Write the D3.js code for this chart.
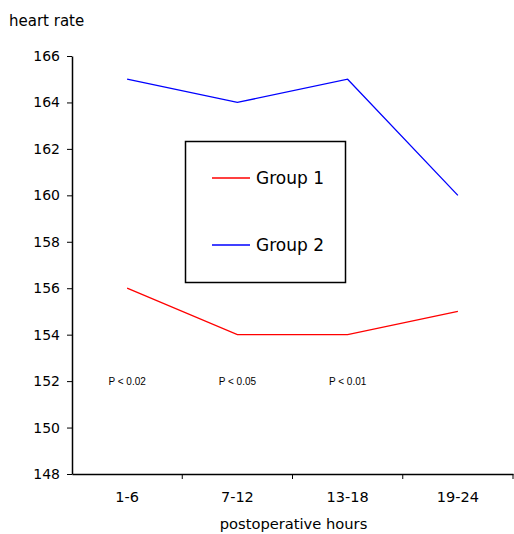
<!DOCTYPE html>
<html>
<head>
<meta charset="utf-8">
<script src="https://cdn.jsdelivr.net/npm/d3@7"></script>
<style>
body { margin: 0; background: #fff; }
text { font-family: "DejaVu Sans", sans-serif; }
</style>
</head>
<body>
<div id="frame"></div>
<script>
// data
const hours = ["1-6", "7-12", "13-18", "19-24"];
const group1 = [156, 154, 154, 155];
const group2 = [165, 164, 165, 160];
const pLabels = ["P < 0.02", "P < 0.05", "P < 0.01"];
const yTicks = [148, 150, 152, 154, 156, 158, 160, 162, 164, 166];

const frameWidth = 514;
const frameHeight = 534;
const plotLeft = 72, plotRight = 513, plotTop = 56, plotBottom = 474;

let svg = d3.select("#frame")
        .append("svg")
        .attr("width", frameWidth)
        .attr("height", frameHeight);

let xScale = d3.scaleBand()
        .domain(hours)
        .range([plotLeft, plotRight]);

let yScale = d3.scaleLinear()
        .domain([148, 166])
        .range([plotBottom, plotTop]);

// y axis
let yAxis = svg.append("g")
        .attr("transform", "translate(" + plotLeft + ",0)")
        .call(d3.axisLeft(yScale).tickValues(yTicks).tickSize(5).tickPadding(7).tickSizeOuter(0));
yAxis.selectAll("text").style("font-size", "14px").attr("fill", "#000");
yAxis.selectAll("line").attr("stroke", "#000");
yAxis.select(".domain").attr("stroke", "#000").attr("stroke-width", 1.5);

// x axis
let xAxis = svg.append("g")
        .attr("transform", "translate(0," + plotBottom + ")")
        .call(d3.axisBottom(xScale).tickSize(0).tickPadding(18).tickSizeOuter(0));
xAxis.selectAll("text").style("font-size", "14.5px").attr("fill", "#000");
xAxis.select(".domain").attr("stroke", "#000").attr("stroke-width", 1.5);

// ticks between categories
svg.append("g")
        .selectAll("line")
        .data(hours)
        .enter()
        .append("line")
        .attr("x1", d => xScale(d) + xScale.bandwidth())
        .attr("x2", d => xScale(d) + xScale.bandwidth())
        .attr("y1", plotBottom)
        .attr("y2", plotBottom + 5)
        .attr("stroke", "#000");

// axis titles
svg.append("text")
        .attr("x", 9)
        .attr("y", 26)
        .style("font-size", "15px")
        .text("heart rate");

svg.append("text")
        .attr("x", (plotLeft + plotRight) / 2 + 1)
        .attr("y", 529)
        .attr("text-anchor", "middle")
        .style("font-size", "14.7px")
        .text("postoperative hours");

// lines
let line = d3.line()
        .x((d, i) => xScale(hours[i]) + xScale.bandwidth() / 2)
        .y(d => yScale(d));

svg.append("path")
        .datum(group1)
        .attr("d", line)
        .attr("fill", "none")
        .attr("stroke", "#ff0000")
        .attr("stroke-width", 1.3);

svg.append("path")
        .datum(group2)
        .attr("d", line)
        .attr("fill", "none")
        .attr("stroke", "#0000ff")
        .attr("stroke-width", 1.3);

// p values
svg.append("g")
        .selectAll("text")
        .data(pLabels)
        .enter()
        .append("text")
        .attr("x", (d, i) => xScale(hours[i]) + xScale.bandwidth() / 2)
        .attr("y", yScale(152) + 4)
        .attr("text-anchor", "middle")
        .style("font-family", "'Liberation Sans', Arial, sans-serif")
        .style("font-size", "10px")
        .text(d => d);

// legend
let legend = svg.append("g");
legend.append("rect")
        .attr("x", 185.5)
        .attr("y", 141.5)
        .attr("width", 160)
        .attr("height", 141)
        .attr("fill", "none")
        .attr("stroke", "#000")
        .attr("stroke-width", 1.5);

[["Group 1", "#ff0000", 178], ["Group 2", "#0000ff", 245]].forEach(([name, col, ly]) => {
    legend.append("line")
        .attr("x1", 212)
        .attr("x2", 250)
        .attr("y1", ly)
        .attr("y2", ly)
        .attr("stroke", col)
        .attr("stroke-width", 1.3);
    legend.append("text")
        .attr("x", 256)
        .attr("y", ly + 6)
        .style("font-size", "17px")
        .text(name);
});
</script>
</body>
</html>
